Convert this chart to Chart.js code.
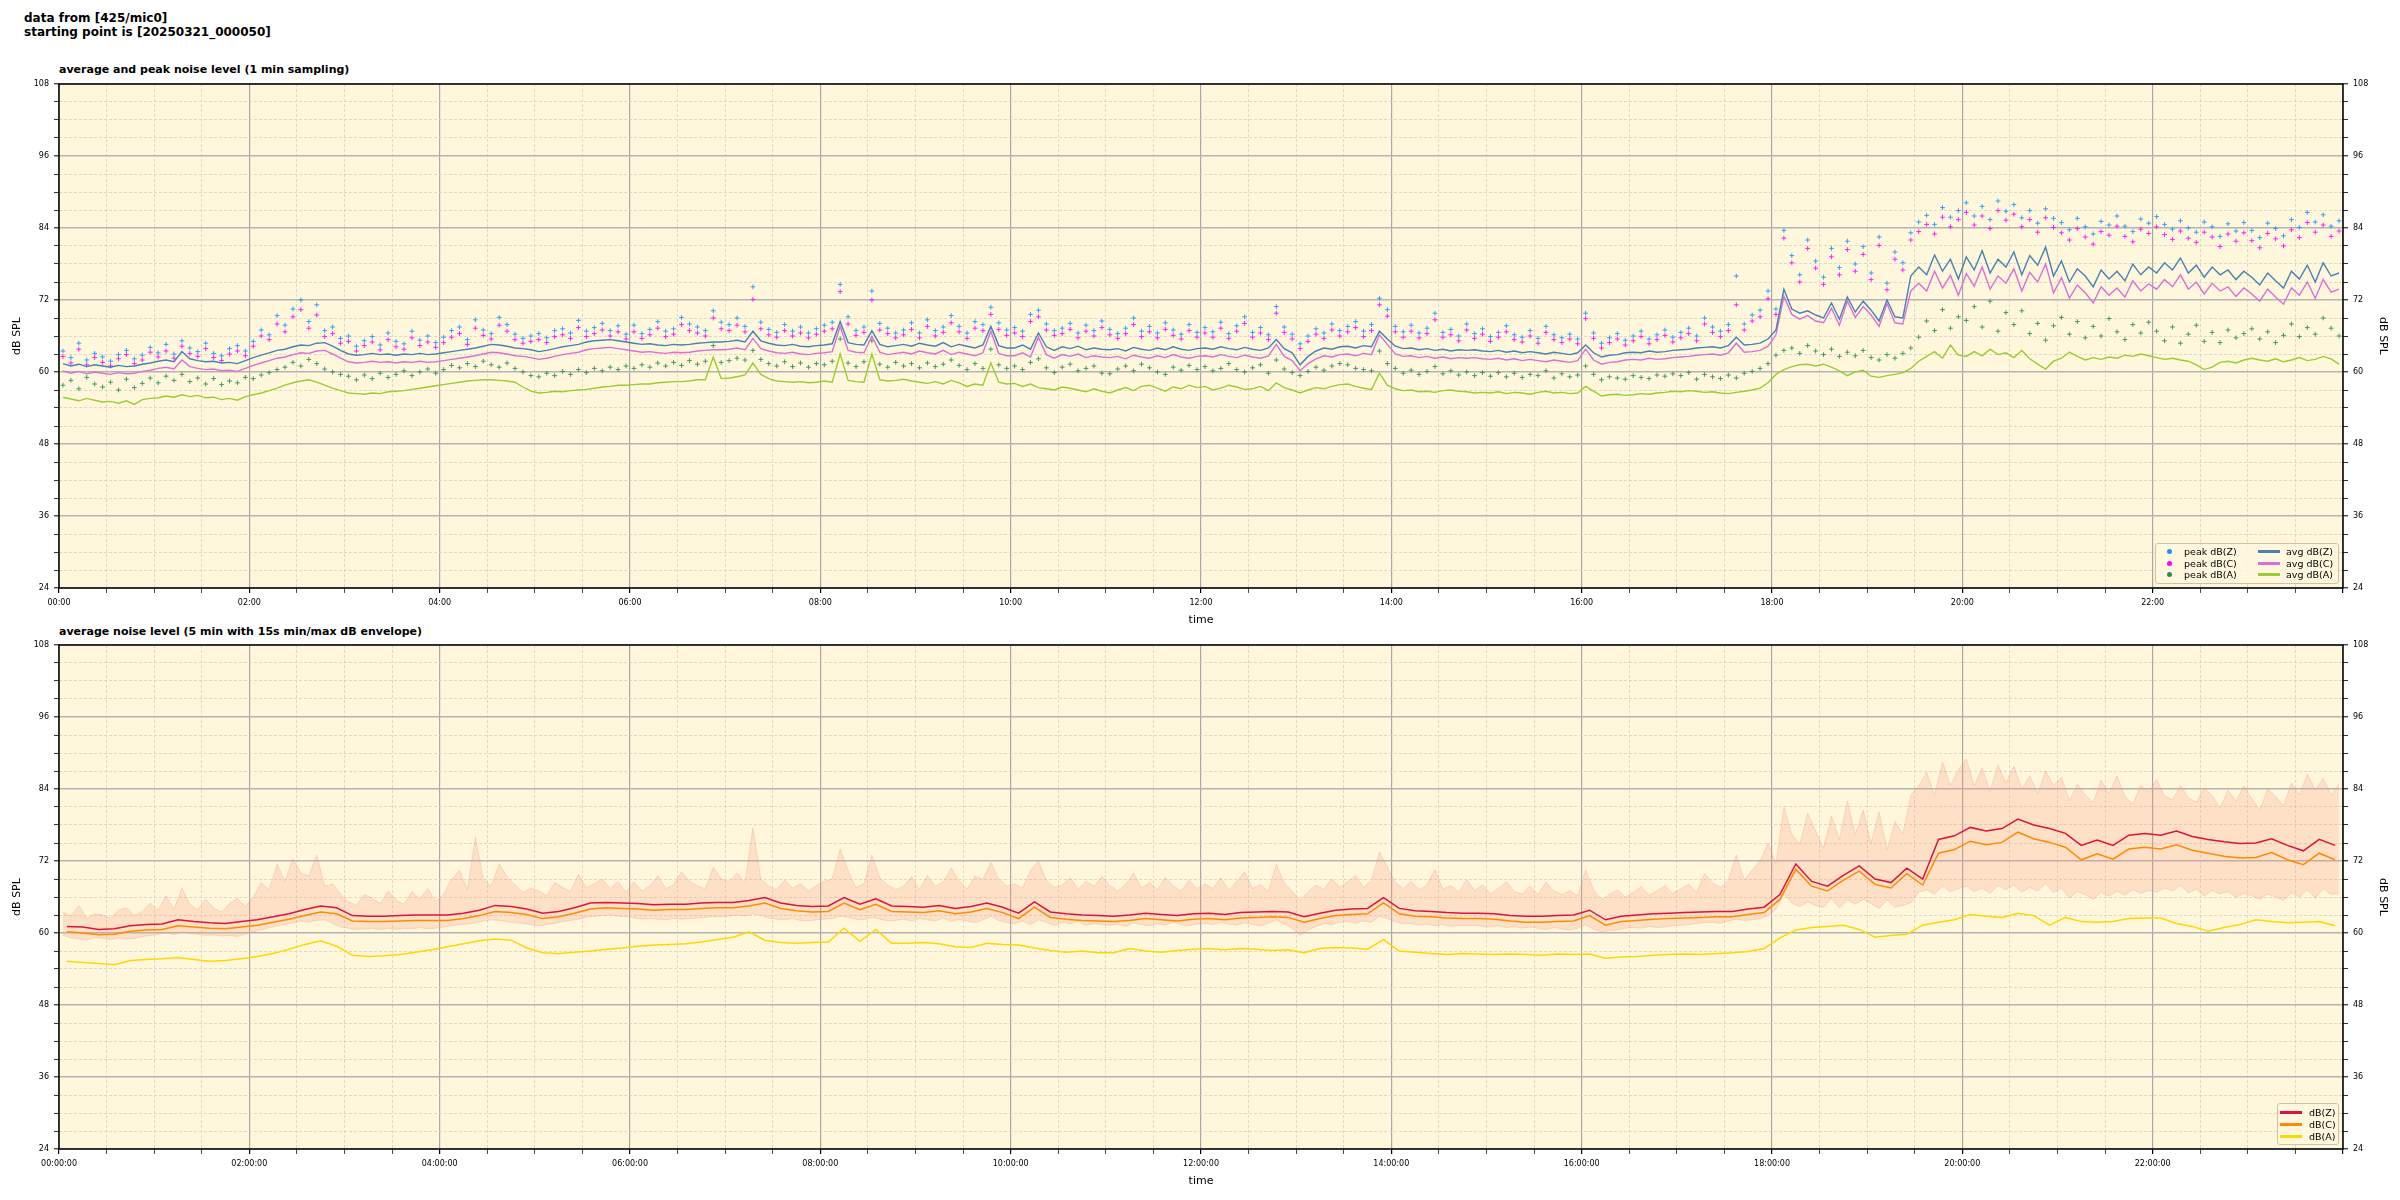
<!DOCTYPE html>
<html>
<head>
<meta charset="utf-8">
<script src="https://cdn.jsdelivr.net/npm/chart.js@4.4.0/dist/chart.umd.min.js"></script>
<style>
  body { margin: 0; background: #fff; width: 2400px; height: 1200px; position: relative; overflow: hidden; font-family: "DejaVu Sans", sans-serif; color: #000; }
  .sup { position: absolute; left: 24px; top: 11px; font-weight: bold; font-size: 12px; line-height: 14px; }
  .ttl { position: absolute; left: 59px; font-weight: bold; font-size: 11px; white-space: nowrap; }
  canvas { position: absolute; left: 0; }
  .legend { position: absolute; border: 1px solid #d9c09a; border-radius: 3px; background: rgba(255, 248, 222, 0.85); font-size: 9.5px; }
  .row { position: absolute; height: 12px; display: flex; align-items: center; white-space: nowrap; }
  .dot { width: 5px; height: 5px; border-radius: 50%; }
  .ln { width: 22px; height: 3px; }
</style>
</head>
<body>
<div class="sup">data from [425/mic0]<br>starting point is [20250321_000050]</div>
<div class="ttl" style="top:63px">average and peak noise level (1 min sampling)</div>
<div class="ttl" style="top:625px">average noise level (5 min with 15s min/max dB envelope)</div>

<canvas id="top" width="2400" height="570" style="top:60px"></canvas>
<canvas id="bottom" width="2400" height="570" style="top:630px"></canvas>

<div class="legend" style="left:2155px; top:543px; width:182px; height:39px">
  <div class="row" style="left:11px; top:1px"><span class="dot" style="background:#1e90ff"></span><span style="margin-left:12px">peak dB(Z)</span></div>
  <div class="row" style="left:11px; top:13px"><span class="dot" style="background:#ff00ff"></span><span style="margin-left:12px">peak dB(C)</span></div>
  <div class="row" style="left:11px; top:24px"><span class="dot" style="background:#2e8b57"></span><span style="margin-left:12px">peak dB(A)</span></div>
  <div class="row" style="left:102px; top:1px"><span class="ln" style="background:#4682b4"></span><span style="margin-left:6px">avg dB(Z)</span></div>
  <div class="row" style="left:102px; top:13px"><span class="ln" style="background:#da70d6"></span><span style="margin-left:6px">avg dB(C)</span></div>
  <div class="row" style="left:102px; top:24px"><span class="ln" style="background:#9acd32"></span><span style="margin-left:6px">avg dB(A)</span></div>
</div>

<div class="legend" style="left:2277px; top:1103px; width:60px; height:40px">
  <div class="row" style="left:2px; top:2px"><span class="ln" style="background:#dc143c"></span><span style="margin-left:7px">dB(Z)</span></div>
  <div class="row" style="left:2px; top:14px"><span class="ln" style="background:#ff8c00"></span><span style="margin-left:7px">dB(C)</span></div>
  <div class="row" style="left:2px; top:26px"><span class="ln" style="background:#ffd700"></span><span style="margin-left:7px">dB(A)</span></div>
</div>

<script>
// top panel, 5 min steps from 00:00
const avgZ = [
  61.4, 61.0, 61.3, 60.9, 61.2, 61.0, 60.8, 61.1, 60.9, 61.0, 61.3, 61.5,
  61.8, 62.0, 61.7, 63.4, 62.2, 61.9, 61.7, 61.8, 61.5, 61.6, 61.4, 61.9,
  62.4, 62.8, 63.2, 63.6, 63.8, 64.2, 64.5, 64.4, 64.8, 64.9, 64.3, 63.6,
  63.0, 62.8, 62.9, 63.1, 62.9, 63.0, 62.8, 63.0, 62.9, 63.1, 62.9, 63.0,
  63.2, 63.4, 63.6, 63.8, 64.0, 64.3, 64.6, 64.5, 64.3, 64.0, 63.9, 63.7,
  63.4, 63.6, 63.9, 64.2, 64.4, 64.6, 65.0, 65.2, 65.3, 65.4, 65.2, 65.0,
  64.8, 64.6, 64.7, 64.5, 64.4, 64.6, 64.5, 64.6, 64.8, 64.9, 65.0, 65.0,
  65.1, 65.3, 65.0, 66.8, 65.2, 64.8, 64.5, 64.4, 64.6, 64.3, 64.2, 64.4,
  64.5, 64.7, 68.4, 64.9, 64.6, 64.5, 66.9, 64.6, 64.2, 64.4, 64.6, 64.3,
  64.8, 64.5, 64.3, 64.9, 64.2, 64.6, 64.3, 64.0, 64.5, 67.6, 64.4, 64.0,
  64.0, 64.5, 63.8, 66.5, 64.2, 63.6, 64.2, 63.9, 64.3, 63.7, 64.0, 63.8,
  63.7, 63.9, 63.5, 64.1, 63.8, 63.6, 64.0, 63.7, 64.2, 63.8, 63.6, 63.9,
  64.0, 63.8, 64.2, 63.9, 63.7, 64.1, 63.8, 63.6, 64.0, 65.4, 63.9, 63.2,
  61.2, 62.6, 63.5, 64.0, 63.8, 64.2, 64.3, 64.0, 64.4, 64.2, 66.8, 65.5,
  64.3, 63.9, 64.0, 63.7, 63.9, 63.6, 63.8, 63.5, 63.7, 63.6, 63.7, 63.5,
  63.4, 63.6, 63.3, 63.5, 63.2, 63.4, 63.2, 63.0, 63.3, 63.1, 62.9, 63.2,
  64.5, 63.2, 62.5, 62.8, 62.9, 63.2, 63.3, 63.2, 63.5, 63.3, 63.4, 63.6,
  63.7, 63.8, 64.0, 64.1, 64.2, 64.0, 64.4, 65.8, 64.5, 64.6, 64.8, 65.5,
  67.0, 73.8, 70.5, 69.8, 70.2, 69.5, 69.0, 71.5, 68.8, 72.5, 70.0, 71.8,
  70.3, 68.5, 72.0, 69.2, 69.0, 76.0, 77.5, 76.2, 79.5, 76.8, 78.8, 75.5,
  79.2, 77.0, 80.2, 76.5, 78.8, 77.5, 80.0, 76.2, 79.4, 77.8, 80.8, 76.0,
  78.5, 75.0, 77.2, 76.0, 74.2, 77.0, 75.5, 76.8, 75.2, 78.0, 76.2, 77.5,
  76.5, 78.2, 77.0, 79.0, 76.5, 77.8, 75.8, 77.5, 76.2, 77.0, 75.4, 76.8,
  75.8, 74.5, 76.5, 75.2, 74.0, 76.8, 75.5, 77.8, 75.0, 78.2, 76.0, 76.5
];
const avgC = [
  60.2, 59.8, 60.1, 59.7, 60.0, 59.8, 59.6, 59.9, 59.7, 59.8, 60.1, 60.3,
  60.6, 60.8, 60.5, 62.0, 60.9, 60.6, 60.4, 60.5, 60.2, 60.3, 60.1, 60.6,
  61.1, 61.5, 61.9, 62.3, 62.5, 62.9, 63.2, 63.1, 63.5, 63.6, 63.0, 62.3,
  61.7, 61.5, 61.6, 61.8, 61.6, 61.7, 61.5, 61.7, 61.6, 61.8, 61.6, 61.7,
  61.9, 62.1, 62.3, 62.5, 62.7, 63.0, 63.3, 63.2, 63.0, 62.7, 62.6, 62.4,
  62.1, 62.3, 62.6, 62.9, 63.1, 63.3, 63.7, 63.9, 64.0, 64.1, 63.9, 63.7,
  63.5, 63.3, 63.4, 63.2, 63.1, 63.3, 63.2, 63.3, 63.5, 63.6, 63.7, 63.7,
  63.8, 64.0, 63.7, 65.6, 63.9, 63.5, 63.2, 63.1, 63.3, 63.0, 62.9, 63.1,
  63.2, 63.4, 67.6, 63.6, 63.3, 63.2, 66.0, 63.3, 62.9, 63.1, 63.3, 63.0,
  63.5, 63.2, 63.0, 63.6, 62.9, 63.3, 63.0, 62.7, 63.2, 66.8, 63.1, 62.7,
  62.7, 63.2, 62.5, 65.8, 62.9, 62.3, 62.9, 62.6, 63.0, 62.4, 62.7, 62.5,
  62.4, 62.6, 62.2, 62.8, 62.5, 62.3, 62.7, 62.4, 62.9, 62.5, 62.3, 62.6,
  62.7, 62.5, 62.9, 62.6, 62.4, 62.8, 62.5, 62.3, 62.7, 64.6, 62.6, 61.9,
  60.2, 61.4, 62.2, 62.7, 62.5, 62.9, 63.0, 62.7, 63.1, 62.9, 66.2, 64.6,
  63.0, 62.6, 62.7, 62.4, 62.6, 62.3, 62.5, 62.2, 62.4, 62.3, 62.4, 62.2,
  62.1, 62.3, 62.0, 62.2, 61.9, 62.1, 61.9, 61.7, 62.0, 61.8, 61.6, 61.9,
  63.8, 62.0, 61.3, 61.6, 61.7, 62.0, 62.1, 62.0, 62.3, 62.1, 62.2, 62.4,
  62.5, 62.6, 62.8, 62.9, 63.0, 62.8, 63.2, 64.8, 63.3, 63.4, 63.6, 64.3,
  66.2, 72.6, 69.6, 68.8, 69.4, 68.5, 68.2, 70.6, 67.8, 71.8, 69.1, 70.9,
  69.5, 67.6, 71.4, 68.2, 68.0, 73.5, 74.8, 73.5, 76.8, 74.0, 76.1, 72.8,
  76.4, 74.3, 77.5, 73.8, 76.0, 74.8, 77.2, 73.5, 76.6, 75.0, 78.0, 73.2,
  75.7, 72.3, 74.5, 73.2, 71.5, 74.2, 72.8, 74.0, 72.5, 75.2, 73.5, 74.7,
  73.8, 75.4, 74.2, 76.2, 73.8, 75.0, 73.0, 74.8, 73.5, 74.2, 72.6, 74.0,
  73.0, 71.8, 73.8, 72.5, 71.3, 74.0, 72.8, 75.0, 72.3, 75.4, 73.3, 73.8
];
const avgA = [
  55.8, 55.5, 55.2, 55.6, 55.3, 55.0, 55.1, 54.8, 55.2, 54.6, 55.4, 55.6,
  55.7, 56.0, 55.8, 56.2, 55.9, 56.1, 55.7, 55.8, 55.4, 55.6, 55.3, 55.9,
  56.2, 56.5, 56.9, 57.3, 57.8, 58.2, 58.5, 58.7, 58.3, 57.8, 57.3, 56.9,
  56.5, 56.4, 56.3, 56.5, 56.4, 56.7, 56.8, 56.9, 57.1, 57.3, 57.5, 57.7,
  57.9, 58.1, 58.3, 58.5, 58.6, 58.7, 58.7, 58.6, 58.5, 58.3, 57.5, 56.8,
  56.5, 56.6, 56.8, 56.7, 56.9, 57.0, 57.1, 57.3, 57.5, 57.6, 57.8, 57.8,
  57.9, 58.0, 58.0, 58.2, 58.3, 58.4, 58.4, 58.5, 58.7, 58.7, 62.5, 58.9,
  59.0, 59.2, 59.5, 61.5, 59.6, 58.9, 58.5, 58.4, 58.3, 58.4, 58.2, 58.3,
  58.5, 58.3, 63.0, 58.6, 58.4, 58.3, 63.0, 58.7, 58.5, 58.6, 58.8, 58.5,
  58.3, 58.1, 58.4, 58.0, 58.6, 58.2, 57.6, 58.0, 57.8, 61.5, 58.3, 58.0,
  58.1, 57.6, 58.0, 57.4, 57.2, 57.0, 57.5, 57.3, 57.0, 56.7, 57.2, 56.8,
  56.5, 57.0, 57.4, 56.9, 57.6, 57.8, 57.3, 56.8, 57.5, 57.2, 57.8, 57.4,
  57.6, 57.0, 57.3, 57.8, 57.5, 57.1, 57.2, 57.6, 56.9, 58.2, 57.4, 57.0,
  56.5, 57.0, 57.4, 57.2, 57.6, 57.9, 58.0, 57.6, 57.3, 57.1, 59.8, 57.8,
  57.2, 56.9, 57.0, 56.7, 56.8, 56.6, 56.9, 57.0, 56.8, 56.7, 56.5, 56.6,
  56.5, 56.7, 56.4, 56.6, 56.5, 56.3, 56.6, 56.8, 56.5, 56.6, 56.4, 56.5,
  57.6, 56.8, 56.0, 56.2, 56.3, 56.1, 56.2, 56.4, 56.3, 56.5, 56.6, 56.8,
  56.7, 56.9, 56.8, 56.6, 56.7, 56.5, 56.4, 56.6, 56.8, 57.0, 57.3, 58.2,
  59.6, 60.4, 60.9, 61.2, 61.3, 61.0, 61.3, 60.8, 60.2, 59.4, 60.0, 60.3,
  59.3, 59.1, 59.4, 59.6, 59.9, 60.6, 61.8, 62.6, 63.4, 62.3, 64.5, 62.8,
  62.6, 63.4, 62.7, 63.8, 62.9, 63.2, 62.4, 63.6, 62.2, 61.3, 60.5, 61.8,
  62.3, 63.3, 62.6, 62.0, 62.4, 62.1, 62.5, 62.3, 62.8, 62.6, 63.0, 62.7,
  62.4, 62.1, 62.3, 62.0, 61.8, 61.2, 60.4, 60.8, 61.6, 61.8, 61.5, 62.0,
  62.3, 62.0, 61.8, 62.2, 61.7, 62.0, 62.4, 61.9, 62.1, 62.6, 62.2, 61.3
];
const peakZ = [
  63.5, 62.4, 64.8, 62.0, 63.1, 62.5, 61.8, 62.9, 63.6, 62.2, 62.8, 64.1,
  63.2, 64.6, 63.0, 65.2, 64.0, 63.4, 64.8, 63.1, 62.7, 63.9, 64.4, 63.5,
  65.1, 67.0, 66.2, 69.4, 67.8, 70.5, 72.0, 68.4, 71.2, 66.9, 67.5, 65.6,
  66.0, 64.3, 65.2, 65.9, 64.5, 66.5, 65.1, 64.7, 66.8, 65.3, 66.0, 64.9,
  65.8, 66.9, 67.5, 65.4, 68.7, 67.0, 66.4, 69.1, 67.9, 66.3, 65.6, 66.0,
  66.4, 65.7, 66.9, 67.2, 66.5, 68.6, 66.8, 67.4, 68.1, 66.9, 67.7, 66.3,
  67.8, 66.4, 67.1, 68.4, 66.8, 67.2, 69.1, 68.0, 67.5, 66.9, 70.2, 68.3,
  67.9, 69.0, 67.6, 74.2, 68.3, 67.1, 66.6, 67.9, 66.8, 67.5, 66.5, 67.2,
  67.8, 68.3, 74.6, 69.2, 66.9, 67.5, 73.5, 68.1, 67.3, 66.5, 67.0, 68.2,
  66.5, 68.7, 66.9, 67.5, 69.4, 67.6, 66.5, 68.4, 67.9, 70.8, 68.2, 67.0,
  67.4, 66.8, 69.6, 70.3, 68.0, 66.9, 67.3, 68.1, 66.5, 67.8, 66.9, 68.5,
  67.1, 66.4, 67.3, 69.0, 66.8, 67.6, 66.5, 68.2, 67.0, 66.3, 67.9, 66.6,
  67.4, 66.7, 68.3, 66.4, 67.7, 69.2, 66.6, 67.4, 66.2, 70.9, 67.5, 66.3,
  64.7, 66.0, 67.2, 66.5, 68.0, 66.9, 67.6, 68.4, 66.8, 67.9, 72.3, 70.4,
  67.6, 66.7, 67.8, 66.5, 67.3, 69.8, 66.6, 67.1, 66.0, 68.0, 66.4, 67.2,
  65.9, 66.6, 67.7, 66.2, 65.8, 66.9, 65.6, 67.6, 66.2, 65.7, 66.3, 65.5,
  69.8, 66.5, 64.8, 65.7, 66.4, 65.3, 66.0, 66.8, 65.5, 66.2, 67.0, 65.8,
  66.6, 67.3, 66.0, 69.0, 67.5, 66.8, 67.9, 76.0, 68.0, 69.5, 70.3, 73.5,
  70.5, 83.6, 79.4, 76.2, 82.0, 78.5, 75.8, 80.6, 77.4, 81.8, 78.0, 80.9,
  76.5, 82.5, 74.8, 80.0, 78.2, 83.2, 85.0, 86.1, 84.6, 87.4, 85.8, 86.9,
  88.2, 86.0, 87.6, 85.4, 88.5, 86.8, 87.9, 85.7, 86.9, 84.8, 87.2, 85.6,
  84.9, 83.7, 85.6, 84.2, 83.0, 85.1, 84.5, 86.0, 84.3, 83.4, 85.5, 84.8,
  85.9, 84.6, 83.8, 85.2, 84.0, 83.3, 85.0, 84.2, 82.6, 84.7, 83.5, 84.9,
  83.6, 82.4, 84.8, 83.9, 82.7, 85.4, 84.1, 86.6, 85.0, 86.2, 84.3, 85.2
];
const peakC = [
  62.6, 61.5, 63.8, 61.2, 62.4, 61.6, 61.0, 62.2, 62.9, 61.4, 62.0, 63.3,
  62.5, 63.5, 62.3, 64.3, 63.1, 62.6, 63.9, 62.4, 61.9, 63.0, 63.5, 62.7,
  64.3, 66.0, 65.4, 68.0, 66.7, 69.2, 70.4, 67.3, 69.5, 65.9, 66.4, 64.8,
  65.1, 63.5, 64.4, 65.0, 63.7, 65.4, 64.2, 63.8, 65.7, 64.4, 65.0, 64.1,
  64.9, 65.8, 66.4, 64.6, 67.3, 66.1, 65.5, 67.8, 66.8, 65.4, 64.8, 65.1,
  65.4, 64.9, 65.9, 66.2, 65.6, 67.4, 65.9, 66.4, 67.0, 66.0, 66.7, 65.5,
  66.7, 65.6, 66.2, 67.3, 65.9, 66.3, 67.9, 66.9, 66.5, 66.0, 69.0, 67.2,
  66.9, 67.8, 66.7, 72.1, 67.2, 66.2, 65.8, 66.9, 66.0, 66.5, 65.7, 66.3,
  66.8, 67.2, 73.4, 68.0, 66.1, 66.6, 72.0, 67.0, 66.4, 65.7, 66.2, 67.1,
  65.7, 67.6, 66.0, 66.6, 68.2, 66.7, 65.6, 67.3, 66.9, 69.6, 67.1, 66.1,
  66.5, 65.9, 68.4, 69.2, 67.0, 66.1, 66.4, 67.1, 65.7, 66.8, 66.0, 67.4,
  66.2, 65.6, 66.4, 67.9, 65.9, 66.7, 65.7, 67.1, 66.1, 65.5, 66.9, 65.8,
  66.5, 65.8, 67.3, 65.6, 66.8, 68.1, 65.8, 66.5, 65.4, 69.8, 66.6, 65.5,
  63.9, 65.1, 66.3, 65.6, 67.0, 66.0, 66.7, 67.4, 65.9, 66.9, 71.2, 69.3,
  66.7, 65.8, 66.8, 65.7, 66.4, 68.7, 65.8, 66.2, 65.2, 67.0, 65.6, 66.3,
  65.1, 65.8, 66.7, 65.4, 65.0, 66.0, 64.8, 66.6, 65.4, 64.9, 65.5, 64.7,
  68.9, 65.6, 64.0, 64.9, 65.5, 64.5, 65.2, 65.9, 64.7, 65.4, 66.1, 65.0,
  65.7, 66.4, 65.2, 68.0, 66.6, 65.9, 66.9, 71.2, 67.0, 68.5, 69.2, 72.2,
  69.6, 82.3, 78.2, 75.0, 80.6, 77.3, 74.6, 79.2, 76.2, 80.4, 76.8, 79.6,
  75.4, 81.1, 73.7, 78.8, 77.0, 82.0, 83.4, 84.6, 83.0, 85.8, 84.2, 85.4,
  86.6, 84.5, 86.0, 83.9, 86.9, 85.3, 86.3, 84.2, 85.4, 83.3, 85.7, 84.1,
  83.2, 82.0, 83.9, 82.5, 81.3, 83.4, 82.8, 84.3, 82.6, 81.7, 83.8, 83.1,
  84.2, 82.9, 82.1, 83.5, 82.3, 81.6, 83.3, 82.5, 80.9, 83.0, 81.8, 83.2,
  81.9, 80.7, 83.1, 82.2, 81.0, 83.7, 82.4, 84.9, 83.3, 84.5, 82.6, 83.5
];
const peakA = [
  57.8, 58.6, 57.2, 59.1, 58.0, 57.5, 58.3, 57.0, 58.8, 57.4, 58.1, 59.0,
  58.2, 59.3, 58.6, 59.6, 58.4, 59.0, 58.0, 58.9, 57.9, 58.5, 58.2, 59.1,
  58.9, 59.5, 59.9, 60.4, 60.8, 61.6, 61.0, 62.1, 61.4, 60.5, 60.0, 59.6,
  59.3, 58.7, 59.5, 58.9, 59.8, 59.1, 59.6, 60.2, 59.4, 60.0, 60.5, 59.8,
  60.4, 61.1, 60.7, 61.4, 60.9, 61.8, 61.2, 60.8, 61.5, 60.6, 60.0, 59.4,
  59.2, 59.8, 59.4, 60.1, 59.6, 60.4, 59.9, 60.6, 60.2, 60.8, 60.4, 61.0,
  60.6, 61.2, 60.8, 61.5, 61.0, 61.6, 61.1, 61.9, 61.3, 61.8, 64.4, 61.6,
  61.9, 62.3, 62.0, 63.6, 62.1, 61.4, 61.0, 61.7, 60.9, 61.5, 60.8, 61.4,
  61.2, 61.8, 65.5, 61.5, 60.9, 61.7, 65.2, 61.3, 60.8, 61.6, 61.0, 61.4,
  60.7, 61.5, 60.9, 61.3, 62.0, 61.1, 60.4, 61.4, 60.6, 63.8, 61.2, 60.6,
  61.0, 60.4, 61.6, 62.2, 60.7, 59.9, 60.8, 61.3, 60.2, 60.6, 61.0, 59.8,
  59.7, 60.5, 61.0, 60.2, 61.3, 60.7, 60.0, 59.6, 60.8, 60.3, 61.1, 60.4,
  60.9, 60.2, 60.6, 61.4, 60.4, 60.0, 60.7, 61.2, 59.8, 62.0, 60.5, 59.9,
  59.4, 60.1, 60.8, 60.3, 61.0, 61.4, 61.2, 60.6, 60.4, 60.2, 63.5, 61.4,
  60.6, 59.8, 60.3, 59.6, 60.1, 60.9, 59.7, 60.2, 59.5, 60.0, 59.4, 59.9,
  59.3, 59.9, 59.2, 59.8, 59.1, 59.6, 59.4, 60.2, 59.0, 59.7, 59.2, 59.5,
  61.0, 59.6, 58.7, 59.2, 59.0, 58.8, 59.4, 59.1, 58.9, 59.5, 59.3, 59.7,
  59.4, 59.9, 58.8, 59.6, 59.2, 58.9, 59.5, 59.0, 59.8, 60.1, 60.6, 61.4,
  62.8, 63.6, 64.0, 63.1, 64.4, 63.5, 62.9, 63.8, 62.6, 63.3, 62.7, 63.6,
  62.4, 62.0, 62.9, 62.3, 63.1, 64.0, 65.8, 68.5, 66.9, 70.4, 67.3, 69.2,
  68.6, 70.9, 67.5, 71.8, 66.8, 69.9, 67.9, 70.2, 66.4, 68.1, 65.3, 67.7,
  69.1, 66.3, 68.4, 65.7, 67.6, 66.0, 68.9, 66.7, 65.4, 67.9, 66.5, 68.3,
  66.8, 65.2, 67.5, 64.8, 66.3, 67.8, 65.1, 66.6, 64.9, 67.0, 65.7, 66.4,
  67.2, 65.5, 66.7, 64.9, 66.1, 68.0, 65.9, 67.4, 66.3, 69.0, 67.3, 66.0
];

// bottom panel, 5 min averages (10 min steps) and 15 s min/max envelope (5 min steps)
const dbZ = [
  61.1, 61.0, 60.6, 60.7, 61.2, 61.4,
  61.5, 62.2, 61.9, 61.7, 61.6, 61.9,
  62.2, 62.7, 63.2, 63.9, 64.5, 64.2,
  62.9, 62.8, 62.8, 62.9, 63.0, 63.0,
  63.0, 63.3, 63.8, 64.6, 64.4, 64.0,
  63.3, 63.6, 64.2, 65.0, 65.1, 65.0,
  64.9, 64.7, 64.8, 64.8, 65.0, 65.1,
  65.1, 65.4, 65.9, 65.0, 64.6, 64.4,
  64.5, 65.9, 64.8, 65.7, 64.5, 64.4,
  64.3, 64.6, 64.1, 64.4, 65.0, 64.3,
  63.3, 65.2, 63.5, 63.2, 63.0, 62.9,
  62.8, 63.0, 63.3, 63.1, 62.9, 63.2,
  63.3, 63.1, 63.4, 63.5, 63.6, 63.5,
  62.7, 63.3, 63.8, 64.0, 64.1, 65.9,
  64.1, 63.7, 63.6, 63.4, 63.3, 63.3,
  63.2, 62.9, 62.8, 62.8, 62.9, 63.0,
  63.8, 62.2, 62.8, 63.0, 63.2, 63.3,
  63.4, 63.5, 63.6, 63.6, 64.0, 64.3,
  66.4, 71.5, 68.6, 67.8, 69.6, 71.2,
  69.0, 68.4, 70.8, 69.0, 75.6, 76.2,
  77.6, 77.0, 77.4, 79.0, 78.0, 77.4,
  76.6, 74.6, 75.5, 74.6, 76.3, 76.6,
  76.3, 77.0, 76.1, 75.6, 75.2, 74.9,
  75.0, 75.7, 74.6, 73.7, 75.6, 74.6
];
const dbC = [
  60.2, 60.0, 59.7, 59.8, 60.3, 60.5,
  60.6, 61.2, 61.0, 60.8, 60.7, 61.0,
  61.3, 61.8, 62.3, 62.9, 63.5, 63.2,
  62.0, 61.9, 61.9, 62.0, 62.1, 62.1,
  62.1, 62.4, 62.9, 63.6, 63.4, 63.1,
  62.4, 62.7, 63.3, 64.0, 64.2, 64.1,
  64.0, 63.8, 63.9, 63.9, 64.1, 64.2,
  64.2, 64.5, 65.0, 64.1, 63.7, 63.5,
  63.6, 65.0, 63.9, 64.8, 63.6, 63.5,
  63.4, 63.7, 63.2, 63.5, 64.1, 63.4,
  62.4, 64.3, 62.6, 62.3, 62.1, 62.0,
  61.9, 62.1, 62.4, 62.2, 62.0, 62.3,
  62.4, 62.2, 62.5, 62.6, 62.7, 62.6,
  61.8, 62.4, 62.9, 63.1, 63.2, 65.0,
  63.2, 62.8, 62.7, 62.5, 62.4, 62.4,
  62.3, 62.0, 61.8, 61.8, 61.9, 62.0,
  62.9, 61.3, 61.9, 62.1, 62.3, 62.4,
  62.5, 62.6, 62.7, 62.7, 63.1, 63.4,
  65.6, 70.6, 67.8, 67.0, 68.8, 70.3,
  68.1, 67.5, 69.9, 68.0, 73.3, 73.9,
  75.3, 74.7, 75.1, 76.8, 75.7, 75.1,
  74.3, 72.2, 73.2, 72.3, 74.0, 74.3,
  74.0, 74.7, 73.8, 73.3, 72.8, 72.5,
  72.6, 73.4, 72.2, 71.4, 73.3, 72.2
];
const dbA = [
  55.3, 55.1, 54.9, 54.7, 55.4, 55.6,
  55.7, 55.9, 55.6, 55.3, 55.4, 55.7,
  56.1, 56.6, 57.3, 58.1, 58.7, 57.8,
  56.3, 56.1, 56.2, 56.4, 56.8, 57.2,
  57.7, 58.2, 58.7, 59.0, 58.8, 57.5,
  56.7, 56.6, 56.8, 57.0, 57.3, 57.5,
  57.8, 58.0, 58.1, 58.2, 58.5, 58.9,
  59.3, 60.2, 58.8, 58.4, 58.3, 58.4,
  58.5, 60.8, 58.6, 60.6, 58.3, 58.3,
  58.4, 58.2, 57.7, 57.6, 58.3, 58.1,
  58.0, 57.5, 57.1, 56.8, 57.0, 56.7,
  56.7, 57.4, 57.0, 56.8, 57.1, 57.3,
  57.4, 57.2, 57.4, 57.3, 57.1, 57.2,
  56.7, 57.4, 57.6, 57.5, 57.3, 58.9,
  57.0, 56.8, 56.6, 56.4, 56.6, 56.5,
  56.4, 56.5, 56.4, 56.3, 56.5, 56.4,
  56.5, 55.8, 56.0, 56.1, 56.3, 56.4,
  56.5, 56.4, 56.6, 56.7, 56.9, 57.4,
  59.2, 60.5, 60.9, 61.1, 61.3, 60.6,
  59.3, 59.6, 59.8, 61.3, 61.8, 62.2,
  63.1, 62.8, 62.6, 63.3, 62.9, 61.3,
  62.6, 61.9, 61.8, 61.9, 62.4, 62.5,
  62.5, 61.6, 61.1, 60.3, 60.9, 61.4,
  62.2, 61.9, 61.7, 61.8, 61.9, 61.2
];
const envMax = [
  63.5, 62.8, 64.6, 62.4, 63.2, 63.0, 62.5, 63.8, 64.2, 62.9, 63.6, 65.0,
  63.8, 66.2, 64.0, 67.5, 64.8, 63.9, 65.6, 64.2, 63.5, 64.9, 65.8, 64.4,
  66.0, 68.4, 67.2, 71.5, 68.6, 72.4, 70.0, 69.5, 73.0, 67.8, 68.2, 66.5,
  65.2, 64.6, 66.4, 65.8, 64.9, 67.0, 65.5, 64.8, 66.9, 65.6, 67.4, 65.3,
  66.5, 68.9, 70.4, 67.2, 76.0, 69.0, 67.8, 71.5, 69.4, 68.0, 66.8, 67.5,
  67.0, 66.2, 68.4, 67.6, 66.9, 69.8, 67.5, 68.2, 69.0, 67.4, 68.6, 66.8,
  68.5, 67.0, 67.8, 69.5, 67.4, 68.0, 70.2, 68.6, 67.9, 67.3, 71.0, 69.0,
  68.6, 70.0, 68.4, 77.5, 69.0, 67.8, 67.2, 68.8, 67.5, 68.2, 67.0, 67.9,
  68.6, 69.0, 74.0, 70.4, 67.6, 68.2, 73.0, 69.2, 68.0, 67.2, 67.8, 69.4,
  67.2, 69.6, 67.8, 68.5, 70.8, 68.7, 67.3, 69.5, 68.9, 71.8, 69.0, 67.8,
  68.2, 67.5, 70.4, 72.0, 68.8, 67.6, 68.0, 69.2, 67.3, 68.6, 67.8, 69.4,
  67.9, 67.0, 68.1, 70.0, 67.5, 68.4, 67.2, 69.3, 67.8, 67.0, 68.8, 67.4,
  68.2, 67.4, 69.2, 67.1, 68.6, 70.2, 67.4, 68.1, 66.9, 71.5, 68.3, 67.0,
  65.5, 66.8, 68.0, 67.3, 69.0, 67.7, 68.5, 69.6, 67.6, 68.8, 73.5, 71.0,
  68.4, 67.4, 68.6, 67.2, 68.0, 70.6, 67.3, 67.9, 66.8, 68.9, 67.1, 68.0,
  66.6, 67.4, 68.6, 66.9, 66.5, 67.8, 66.4, 68.5, 67.0, 66.4, 67.1, 66.2,
  70.5, 67.2, 65.6, 66.4, 67.2, 66.0, 66.8, 67.7, 66.3, 67.0, 67.9, 66.6,
  67.4, 68.1, 66.8, 69.9, 68.3, 67.6, 68.8, 73.0, 68.8, 70.5, 72.0, 75.0,
  71.5, 81.0, 76.5, 74.8, 80.0, 77.0, 74.2, 79.5, 75.6, 82.0, 76.4, 80.5,
  75.0, 80.2, 73.8, 78.6, 76.5, 83.0, 84.5, 86.8, 83.0, 88.5, 84.6, 87.2,
  89.0, 84.5, 87.5, 83.6, 88.0, 85.0, 87.8, 84.0, 86.2, 83.2, 87.0, 84.6,
  86.0, 82.0, 84.8, 83.0, 81.8, 85.5, 83.2, 86.2, 82.8, 81.5, 84.6, 83.5,
  85.6, 82.8, 82.2, 84.6, 82.5, 81.8, 84.2, 82.9, 80.8, 83.8, 82.0, 84.5,
  82.4, 80.5, 84.0, 82.8, 81.2, 85.0, 83.0, 86.5, 83.8, 85.8, 83.0, 84.8
];
const envMin = [
  59.6, 59.2, 59.0, 58.8, 59.3, 59.1, 58.9, 59.2, 59.0, 59.1, 59.4, 59.6,
  59.8, 60.0, 59.7, 60.2, 59.9, 59.8, 59.6, 59.7, 59.5, 59.6, 59.4, 59.8,
  60.2, 60.5, 60.9, 61.2, 61.4, 61.7, 62.0, 61.8, 62.1, 62.2, 61.6, 61.0,
  60.8, 60.6, 60.7, 60.8, 60.6, 60.8, 60.6, 60.8, 60.7, 60.9, 60.7, 60.8,
  61.0, 61.2, 61.4, 61.5, 61.7, 62.0, 62.2, 62.1, 61.9, 61.7, 61.6, 61.4,
  61.2, 61.4, 61.6, 61.9, 62.1, 62.3, 62.6, 62.8, 62.9, 63.0, 62.8, 62.7,
  62.5, 62.3, 62.4, 62.3, 62.2, 62.4, 62.3, 62.4, 62.5, 62.6, 62.7, 62.7,
  62.8, 63.0, 62.8, 63.2, 62.9, 62.5, 62.3, 62.2, 62.4, 62.1, 62.0, 62.2,
  62.3, 62.4, 62.8, 62.6, 62.3, 62.2, 62.6, 62.3, 62.0, 62.1, 62.3, 62.0,
  62.4, 62.2, 62.0, 62.5, 61.9, 62.3, 62.0, 61.7, 62.2, 62.8, 62.1, 61.7,
  61.6, 62.0, 61.4, 62.2, 61.8, 61.2, 61.8, 61.5, 61.9, 61.3, 61.6, 61.4,
  61.3, 61.5, 61.1, 61.7, 61.4, 61.2, 61.6, 61.3, 61.8, 61.4, 61.2, 61.5,
  61.6, 61.4, 61.8, 61.5, 61.3, 61.7, 61.4, 61.2, 61.6, 62.2, 61.5, 60.8,
  59.6, 60.5, 61.1, 61.6, 61.4, 61.8, 61.9, 61.6, 62.0, 61.8, 62.8, 62.4,
  61.9, 61.5, 61.6, 61.3, 61.5, 61.2, 61.4, 61.1, 61.3, 61.2, 61.3, 61.1,
  61.0, 61.2, 60.9, 61.1, 60.8, 61.0, 60.8, 60.6, 60.9, 60.7, 60.5, 60.8,
  61.4, 60.6, 60.2, 60.4, 60.5, 60.8, 60.9, 60.8, 61.1, 60.9, 61.0, 61.2,
  61.3, 61.4, 61.6, 61.7, 61.8, 61.6, 62.0, 62.3, 62.1, 62.2, 62.4, 62.9,
  64.0, 66.5, 65.0, 64.4, 65.2, 64.6, 64.3, 65.8, 64.2, 65.5, 64.8, 65.6,
  64.9, 64.1, 65.5, 64.3, 64.6, 65.0, 66.8, 67.2, 66.5, 67.8, 66.9, 67.4,
  67.8, 66.9, 67.5, 66.6, 67.9, 67.2, 68.0, 66.8, 67.6, 67.0, 68.2, 66.7,
  67.5, 65.8, 66.9, 66.4, 65.6, 66.8, 66.1, 67.0, 66.3, 67.2, 66.6, 67.1,
  66.8, 67.5, 67.0, 67.9, 66.7, 67.3, 66.2, 67.1, 66.5, 66.9, 65.9, 66.6,
  66.2, 65.6, 66.5, 66.0, 65.4, 66.7, 66.0, 67.2, 65.8, 67.4, 66.4, 66.6
];
const yTicksMajor = [24, 36, 48, 60, 72, 84, 96, 108];

Chart.defaults.font.family = '"DejaVu Sans", sans-serif';
Chart.defaults.color = '#000';

// x positions in minutes from 00:00, centre of each sampling bin
const pts = (arr, step) => arr.map((v, i) => ({ x: i * step + step / 2, y: v }));

function hhmm(v, withSec) {
  const h = String(Math.floor(v / 60)).padStart(2, '0');
  const m = String(v % 60).padStart(2, '0');
  return withSec ? `${h}:${m}:00` : `${h}:${m}`;
}

const frame = {
  id: 'frame',
  beforeDraw(chart) {
    const { ctx, chartArea: a } = chart;
    ctx.save();
    ctx.fillStyle = '#fff7dc';
    ctx.fillRect(a.left, a.top, a.width, a.height);
    ctx.restore();
  },
  afterDraw(chart) {
    const { ctx, chartArea: a } = chart;
    ctx.save();
    ctx.strokeStyle = '#000';
    ctx.lineWidth = 1.5;
    ctx.strokeRect(a.left, a.top, a.width, a.height);
    ctx.restore();
  }
};

function scales(withSec, xHeight, xTitlePad) {
  const isMajorY = v => yTicksMajor.includes(v);
  const yAxis = (pos, width) => ({
    position: pos,
    min: 24, max: 108,
    afterFit: s => { s.width = width; },
    ticks: { stepSize: 3, autoSkip: false, padding: 5, font: { size: 8 }, callback: v => isMajorY(v) ? v : '' },
    grid: {
      drawOnChartArea: pos === 'left',
      color: c => c.tick && isMajorY(c.tick.value) ? '#b4b4b4' : '#d2ccbb',
      lineWidth: c => c.tick && isMajorY(c.tick.value) ? 1.6 : 0.7,
      tickColor: '#000', tickLength: 5,
      tickWidth: c => c.tick && isMajorY(c.tick.value) ? 1 : 0.8
    },
    border: { display: false, dash: c => c.tick && !isMajorY(c.tick.value) ? [3, 2] : [] },
    title: { display: true, text: 'dB SPL', font: { size: 11 }, padding: { top: 11, bottom: 0 } }
  });
  return {
    x: {
      type: 'linear', min: 0, max: 1440,
      afterFit: s => { s.height = xHeight; },
      ticks: { stepSize: 30, autoSkip: false, maxRotation: 0, padding: 5, font: { size: 8 },
        callback: v => (v % 120 === 0 && v < 1440) ? hhmm(v, withSec) : '' },
      grid: {
        color: c => c.tick && c.tick.value % 120 === 0 ? '#a8a8a8' : '#d2ccbb',
        lineWidth: c => c.tick && c.tick.value % 120 === 0 ? 1.2 : 0.7,
        tickColor: '#000', tickLength: 5
      },
      border: { display: false, dash: c => c.tick && c.tick.value % 120 !== 0 ? [3, 2] : [] },
      title: { display: true, text: 'time', font: { size: 11 }, padding: { top: 0, bottom: xTitlePad } }
    },
    y: yAxis('left', 59),
    y2: yAxis('right', 57)
  };
}

const common = {
  responsive: false,
  animation: false,
  events: [],
  plugins: { legend: { display: false }, tooltip: { enabled: false } }
};

const lineDs = (label, data, step, color, width, order) => ({
  label, data: pts(data, step), borderColor: color, borderWidth: width,
  pointRadius: 0, fill: false, tension: 0, order, yAxisID: 'y'
});
const peakDs = (label, data, color, order) => ({
  label, data: pts(data, 5), showLine: false, pointStyle: 'cross', pointRadius: 2.4,
  pointBorderWidth: 1, borderColor: color, backgroundColor: color, order, yAxisID: 'y'
});

new Chart(document.getElementById('top'), {
  type: 'line',
  data: {
    datasets: [
      lineDs('avg dB(Z)', avgZ, 5, '#4682b4', 1.4, 1),
      lineDs('avg dB(C)', avgC, 5, '#da70d6', 1.4, 2),
      lineDs('avg dB(A)', avgA, 5, '#9acd32', 1.4, 3),
      peakDs('peak dB(Z)', peakZ, 'rgba(30,144,255,0.85)', 6),
      peakDs('peak dB(C)', peakC, 'rgba(255,0,255,0.85)', 5),
      peakDs('peak dB(A)', peakA, 'rgba(46,139,87,0.85)', 4)
    ]
  },
  options: { ...common, layout: { padding: { top: 24 } }, scales: scales(false, 42, 3) },
  plugins: [frame]
});

new Chart(document.getElementById('bottom'), {
  type: 'line',
  data: {
    datasets: [
      { label: 'max', data: pts(envMax, 5), borderColor: 'rgba(240,150,130,0.30)', borderWidth: 1,
        backgroundColor: 'rgba(245,150,125,0.24)', pointRadius: 0, tension: 0, fill: '+1', order: 10, yAxisID: 'y' },
      { label: 'min', data: pts(envMin, 5), borderColor: 'rgba(240,150,130,0.30)', borderWidth: 1,
        pointRadius: 0, tension: 0, fill: false, order: 11, yAxisID: 'y' },
      lineDs('dB(Z)', dbZ, 10, '#dc143c', 1.5, 1),
      lineDs('dB(C)', dbC, 10, '#ff8c00', 1.5, 2),
      lineDs('dB(A)', dbA, 10, '#ffd700', 1.5, 3)
    ]
  },
  options: { ...common, layout: { padding: { top: 15 } }, scales: scales(true, 51, 12) },
  plugins: [frame]
});
</script>
</body>
</html>
